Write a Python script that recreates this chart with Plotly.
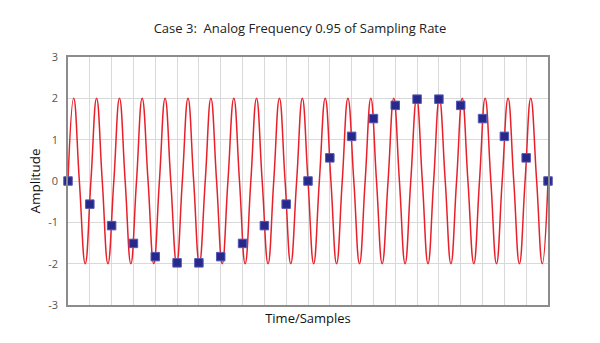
import plotly.graph_objects as go

sample_n = list(range(23))
sample_v = [0, -0.56, -1.08, -1.51, -1.83, -1.98, -1.98, -1.83, -1.51, -1.08, -0.56,
            0, 0.56, 1.08, 1.51, 1.83, 1.98, 1.98, 1.83, 1.51, 1.08, 0.56, 0]

# Analog curve key points (zero crossings, peaks, troughs)
curve_t = [0, 0.26, 0.52, 0.79, 1.05, 1.31, 1.57, 1.83, 2.10, 2.36, 2.62, 2.88,
           3.14, 3.40, 3.67, 3.93, 4.19, 4.45, 4.71, 4.98, 5.24, 5.50, 5.76, 6.02,
           6.29, 6.55, 6.81, 7.07, 7.33, 7.60, 7.86, 8.12, 8.38, 8.64, 8.90, 9.17,
           9.43, 9.69, 9.95, 10.21, 10.48, 10.74, 11.00, 11.26, 11.52, 11.79, 12.05, 12.31,
           12.57, 12.83, 13.10, 13.36, 13.62, 13.88, 14.14, 14.40, 14.67, 14.93, 15.19, 15.45,
           15.71, 15.98, 16.24, 16.50, 16.76, 17.02, 17.29, 17.55, 17.81, 18.07, 18.33, 18.60,
           18.86, 19.12, 19.38, 19.64, 19.90, 20.17, 20.43, 20.69, 20.95, 21.21, 21.48, 21.74,
           22.00]
curve_v = [0, 2, 0, -2, 0, 2, 0, -2, 0, 2, 0, -2,
           0, 2, 0, -2, 0, 2, 0, -2, 0, 2, 0, -2,
           0, 2, 0, -2, 0, 2, 0, -2, 0, 2, 0, -2,
           0, 2, 0, -2, 0, 2, 0, -2, 0, 2, 0, -2,
           0, 2, 0, -2, 0, 2, 0, -2, 0, 2, 0, -2,
           0, 2, 0, -2, 0, 2, 0, -2, 0, 2, 0, -2,
           0, 2, 0, -2, 0, 2, 0, -2, 0, 2, 0, -2,
           0]

y_ticks = [-3, -2, -1, 0, 1, 2, 3]
title_text = "Case 3:  Analog Frequency 0.95 of Sampling Rate"
x_title = "Time/Samples"
y_title = "Amplitude"

font_family = "Open Sans, Lato, Noto Sans, sans-serif"

fig = go.Figure()
fig.add_trace(go.Scatter(
    x=curve_t, y=curve_v, mode="lines",
    line=dict(color="#E8202A", width=1.5, shape="spline", smoothing=1.3),
    hoverinfo="skip", showlegend=False,
))
fig.add_trace(go.Scatter(
    x=sample_n, y=sample_v, mode="markers",
    marker=dict(symbol="square", size=8.5, color="#26288A",
                line=dict(color="#5558B5", width=1)),
    cliponaxis=False, showlegend=False,
))

fig.update_layout(
    width=600, height=343,
    margin=dict(l=68, r=52, t=57, b=38),
    paper_bgcolor="white", plot_bgcolor="white",
    font=dict(family=font_family, color="#222"),
    title=dict(text=title_text, x=0.5, xanchor="center", y=0.918, yanchor="middle",
               font=dict(size=13, color="#222", family=font_family)),
    xaxis=dict(range=[0, 22], tickvals=sample_n, showticklabels=False,
               showgrid=True, gridcolor="#D9D9D9", gridwidth=1,
               zeroline=False, showline=True, linecolor="#8C8C8C", linewidth=1.5,
               mirror=True, ticks="",
               title=dict(text=x_title, standoff=8,
                          font=dict(size=13, color="#111", family=font_family))),
    yaxis=dict(range=[-3, 3], tickvals=y_ticks, ticktext=[str(v) for v in y_ticks],
               showgrid=True, gridcolor="#D9D9D9", gridwidth=1,
               zeroline=False, showline=True, linecolor="#8C8C8C", linewidth=1.5,
               mirror=True, ticks="outside", ticklen=6, tickcolor="rgba(0,0,0,0)",
               tickfont=dict(size=11, color="#555", family=font_family),
               title=dict(text=y_title, standoff=4,
                          font=dict(size=13.5, color="#111", family=font_family))),
)

fig.write_html("out.html")
